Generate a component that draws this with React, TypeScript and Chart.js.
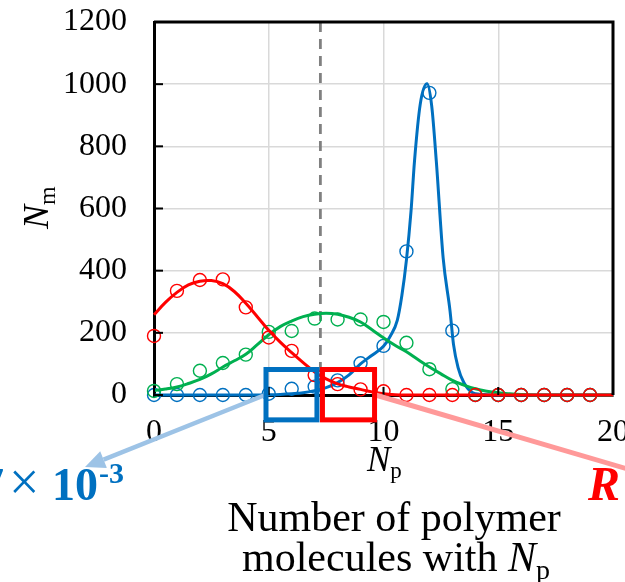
import React, { useEffect, useRef } from 'react';
import { Chart, registerables } from 'chart.js';

Chart.register(...registerables);

// ---- data ----
const circleX = [0, 1, 2, 3, 4, 5, 6, 7, 8, 9, 10, 11, 12, 13, 14, 15, 16, 17, 18, 19];
const redCircles = [190, 335, 370, 372, 282, 185, 142, 64, 35, 18, 12, 0, 0, 0, 0, 0, 0, 0, 0, 0];
const greenCircles = [13, 35, 78, 103, 130, 203, 206, 246, 243, 243, 235, 168, 83, 19, 1, 0, 0, 0, 0, 0];
const blueCircles = [0, 0, 0, 0, 0, 4, 20, 27, 47, 102, 158, 462, 972, 207, 0, 0, 0, 0, 0, 0];

const redCurveX = [0, 0.5, 1, 1.5, 2, 2.5, 3, 3.5, 4, 4.5, 5, 5.5, 6, 6.5, 7, 7.5, 8, 8.5, 9, 9.5, 10, 10.5, 11, 12, 14, 16, 18, 20];
const redCurveY = [258, 298, 330, 354, 366, 368, 358, 333, 295, 252, 208, 170, 136, 104, 74, 52, 36, 26, 18, 10, 4, 1, 0, 0, 0, 0, 0, 0];

const greenCurveX = [0, 0.5, 1, 1.5, 2, 2.5, 3, 3.5, 4, 4.5, 5, 5.5, 6, 6.5, 7, 7.5, 8, 8.5, 9, 9.5, 10, 10.5, 11, 11.5, 12, 12.5, 13, 13.5, 14, 14.5, 15, 15.5, 16, 17, 18, 20];
const greenCurveY = [14, 19, 26, 37, 50, 68, 90, 110, 131, 162, 194, 220, 238, 252, 260, 263, 260, 250, 235, 210, 184, 160, 139, 114, 90, 68, 47, 32, 20, 12, 7, 4, 2, 0, 0, 0];

const blueCurveX = [0, 2, 4, 5, 5.5, 6, 6.5, 7, 7.5, 8, 8.5, 9, 9.5, 10, 10.3, 10.6, 10.8, 11, 11.2, 11.35, 11.6, 11.9, 12.1, 12.3, 12.6, 12.9, 13.05, 13.25, 13.5, 13.9, 14.5, 15, 17, 20];
const blueCurveY = [0, 0, 0, 1, 2, 4, 7, 14, 24, 40, 65, 100, 128, 157, 190, 240, 320, 435, 592, 752, 935, 1001, 930, 753, 440, 270, 163, 88, 40, 7, 1, 0, 0, 0];

const xTicks = [0, 5, 10, 15, 20];
const yTicks = [0, 200, 400, 600, 800, 1000, 1200];

const markerX = 7.25;
const blueBox = { x0: 4.88, x1: 7.1, y0: -80, y1: 82 };
const redBox = { x0: 7.34, x1: 9.61, y0: -80, y1: 82 };

const RED = '#FF0000';
const GREEN = '#00B050';
const BLUE = '#0070C0';
const SERIF = '"Liberation Serif", "Times New Roman", serif';

const pts = (xs: number[], ys: number[]) => xs.map((x, i) => ({ x, y: ys[i] }));

type Run = { text: string; font: string; dy?: number; color?: string };

function drawRuns(ctx: CanvasRenderingContext2D, runs: Run[], x: number, y: number, align: 'left' | 'center' | 'right') {
  let total = 0;
  const widths = runs.map((r) => {
    ctx.font = r.font;
    const w = ctx.measureText(r.text).width;
    total += w;
    return w;
  });
  let cx = align === 'left' ? x : align === 'center' ? x - total / 2 : x - total;
  runs.forEach((r, i) => {
    ctx.font = r.font;
    if (r.color) ctx.fillStyle = r.color;
    ctx.textAlign = 'left';
    ctx.textBaseline = 'alphabetic';
    ctx.fillText(r.text, cx, y + (r.dy || 0));
    cx += widths[i];
  });
}

function arrow(ctx: CanvasRenderingContext2D, x0: number, y0: number, x1: number, y1: number, color: string, lw: number, head: number) {
  const ang = Math.atan2(y1 - y0, x1 - x0);
  const bx = x1 - head * Math.cos(ang);
  const by = y1 - head * Math.sin(ang);
  ctx.save();
  ctx.strokeStyle = color;
  ctx.fillStyle = color;
  ctx.lineWidth = lw;
  ctx.beginPath();
  ctx.moveTo(x0, y0);
  ctx.lineTo(bx, by);
  ctx.stroke();
  ctx.beginPath();
  ctx.moveTo(x1, y1);
  ctx.lineTo(bx + (head * 0.45) * Math.sin(ang), by - (head * 0.45) * Math.cos(ang));
  ctx.lineTo(bx - (head * 0.45) * Math.sin(ang), by + (head * 0.45) * Math.cos(ang));
  ctx.closePath();
  ctx.fill();
  ctx.restore();
}

const overlayPlugin = {
  id: 'overlay',
  beforeDatasetsDraw(chart: any) {
    const { ctx, chartArea, scales } = chart;
    const x = scales.x.getPixelForValue(markerX);
    ctx.save();
    ctx.strokeStyle = '#808080';
    ctx.lineWidth = 2.8;
    ctx.setLineDash([10, 7]);
    ctx.beginPath();
    ctx.moveTo(x, chartArea.top);
    ctx.lineTo(x, chartArea.bottom);
    ctx.stroke();
    ctx.restore();
  },
  afterDatasetsDraw(chart: any) {
    const { ctx, chartArea, scales } = chart;
    const xs = scales.x;
    const ys = scales.y;
    ctx.save();
    // frame (top/right) and inner ticks
    ctx.strokeStyle = '#000';
    ctx.lineWidth = 3;
    ctx.beginPath();
    ctx.moveTo(chartArea.left, chartArea.top);
    ctx.lineTo(chartArea.right, chartArea.top);
    ctx.lineTo(chartArea.right, chartArea.bottom);
    ctx.stroke();
    ctx.lineWidth = 2;
    yTicks.forEach((v) => {
      const py = ys.getPixelForValue(v);
      ctx.beginPath();
      ctx.moveTo(chartArea.left, py);
      ctx.lineTo(chartArea.left + 9, py);
      ctx.stroke();
    });
    xTicks.forEach((v) => {
      const px = xs.getPixelForValue(v);
      ctx.beginPath();
      ctx.moveTo(px, chartArea.bottom);
      ctx.lineTo(px, chartArea.bottom - 8);
      ctx.stroke();
    });

    // arrows
    arrow(ctx, xs.getPixelForValue(blueBox.x0) - 1, ys.getPixelForValue(0), 85, 467, '#9DC3E6', 4.5, 20);
    arrow(ctx, xs.getPixelForValue(redBox.x1) + 1, ys.getPixelForValue(0), 665, 480, '#FF9999', 5, 22);

    // boxes
    const box = (b: typeof blueBox, color: string) => {
      const l = xs.getPixelForValue(b.x0);
      const r = xs.getPixelForValue(b.x1);
      const t = ys.getPixelForValue(b.y1);
      const bt = ys.getPixelForValue(b.y0);
      ctx.strokeStyle = color;
      ctx.lineWidth = 5;
      ctx.strokeRect(l, t, r - l, bt - t);
    };
    box(blueBox, BLUE);
    box(redBox, RED);

    // axis titles
    ctx.fillStyle = '#000';
    ctx.save();
    ctx.translate(48, 229);
    ctx.rotate(-Math.PI / 2);
    drawRuns(ctx, [
      { text: 'N', font: `italic 36px ${SERIF}` },
      { text: 'm', font: `24px ${SERIF}`, dy: 7 },
    ], 0, 0, 'left');
    ctx.restore();

    drawRuns(ctx, [
      { text: 'N', font: `italic 35px ${SERIF}` },
      { text: 'p', font: `23px ${SERIF}`, dy: 7 },
    ], 367, 471, 'left');

    drawRuns(ctx, [{ text: 'Number of polymer', font: `42px ${SERIF}` }], 394, 531, 'center');
    drawRuns(ctx, [
      { text: 'molecules with ', font: `42px ${SERIF}` },
      { text: 'N', font: `italic 42px ${SERIF}` },
      { text: 'p', font: `28px ${SERIF}`, dy: 8 },
    ], 396, 571, 'center');

    // partially clipped annotation on the left
    ctx.fillStyle = BLUE;
    ctx.textAlign = 'left';
    ctx.textBaseline = 'alphabetic';
    ctx.font = `bold 46px ${SERIF}`;
    ctx.fillText('7', -19, 500);
    ctx.font = `54px ${SERIF}`;
    ctx.fillText('×', 9, 500);
    ctx.font = `bold 46px ${SERIF}`;
    ctx.fillText('10', 52, 500);
    ctx.font = `bold 30px ${SERIF}`;
    ctx.fillText('-3', 99, 483);

    ctx.fillStyle = RED;
    ctx.font = `bold italic 48px ${SERIF}`;
    ctx.fillText('R', 588, 500);
    ctx.restore();
  },
};

export default function App() {
  const ref = useRef<HTMLCanvasElement | null>(null);
  useEffect(() => {
    if (!ref.current) return;
    const circleSet = (label: string, ys: number[], color: string, order: number) => ({
      type: 'line' as const,
      label,
      data: pts(circleX, ys),
      showLine: false,
      borderColor: color,
      backgroundColor: 'rgba(0,0,0,0)',
      pointRadius: 6.5,
      pointBorderWidth: 1.4,
      pointStyle: 'circle',
      clip: false,
      order,
    });
    const curveSet = (label: string, xs: number[], ys: number[], color: string, order: number, mono: boolean) => ({
      type: 'line' as const,
      label,
      data: pts(xs, ys),
      borderColor: color,
      backgroundColor: color,
      borderWidth: 3,
      pointRadius: 0,
      tension: 0.4,
      cubicInterpolationMode: mono ? ('monotone' as const) : ('default' as const),
      clip: false,
      order,
    });
    const chart = new Chart(ref.current, {
      type: 'line',
      data: {
        datasets: [
          circleSet('red data', redCircles, RED, 0),
          curveSet('red model', redCurveX, redCurveY, RED, 1, false),
          circleSet('green data', greenCircles, GREEN, 2),
          curveSet('green model', greenCurveX, greenCurveY, GREEN, 3, false),
          circleSet('blue data', blueCircles, BLUE, 4),
          curveSet('blue model', blueCurveX, blueCurveY, BLUE, 5, true),
        ] as any,
      },
      options: {
        animation: false,
        responsive: false,
        devicePixelRatio: 1,
        layout: { padding: { top: 22, right: 12, left: 0, bottom: 0 } },
        plugins: { legend: { display: false }, tooltip: { enabled: false } },
        scales: {
          x: {
            type: 'linear',
            min: 0,
            max: 20,
            afterBuildTicks: (s: any) => { s.ticks = xTicks.map((v) => ({ value: v })); },
            afterFit: (s: any) => { s.height = 187; s.paddingLeft = 0; s.paddingRight = 0; },
            ticks: { font: { family: SERIF, size: 32 }, color: '#000', padding: 18, maxRotation: 0, autoSkip: false, callback: (v: any) => String(v) },
            grid: { color: '#d9d9d9', lineWidth: 1.5, drawTicks: false },
            border: { color: '#000', width: 3 },
          },
          y: {
            type: 'linear',
            min: 0,
            max: 1200,
            afterBuildTicks: (s: any) => { s.ticks = yTicks.map((v) => ({ value: v })); },
            afterFit: (s: any) => { s.width = 154; s.paddingTop = 0; s.paddingBottom = 0; },
            ticks: { font: { family: SERIF, size: 32 }, color: '#000', padding: 27, autoSkip: false, callback: (v: any) => String(v) },
            grid: { color: '#d9d9d9', lineWidth: 1.5, drawTicks: false },
            border: { color: '#000', width: 3 },
          },
        },
      } as any,
      plugins: [overlayPlugin],
    });
    return () => chart.destroy();
  }, []);
  return (
    <div style={{ position: 'fixed', left: 0, top: 0, width: 625, height: 582, background: '#fff' }}>
      <canvas ref={ref} width={625} height={582} style={{ display: 'block' }} />
    </div>
  );
}
